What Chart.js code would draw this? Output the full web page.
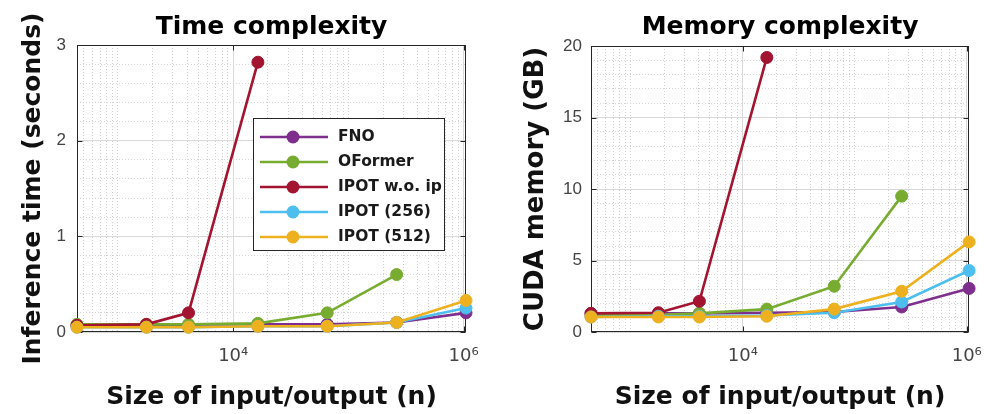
<!DOCTYPE html>
<html><head><meta charset="utf-8">
<script src="https://cdn.jsdelivr.net/npm/chart.js@4.4.1/dist/chart.umd.min.js"></script>
<style>
html,body{margin:0;padding:0;background:#fff;}
#wrap{display:flex;width:996px;height:414px;}
canvas{display:block;}
</style></head><body>
<div id="wrap"><canvas id="c1" width="498" height="414"></canvas><canvas id="c2" width="498" height="414"></canvas></div>
<script>
// ---- data ----
const sizes = [441, 1764, 4096, 16384, 65536, 262144, 1048576];
const seriesNames = ['FNO', 'OFormer', 'IPOT w.o. ip', 'IPOT (256)', 'IPOT (512)'];
const seriesColors = ['#7E2F8E', '#77AC30', '#A2142F', '#4DBEEE', '#EDB120'];

const timeFNO     = [0.07, 0.07, 0.07, 0.08, 0.08, 0.10, 0.20];
const timeOFormer = [0.08, 0.08, 0.08, 0.09, 0.20, 0.60];
const timeIPOTwo  = [0.07, 0.08, 0.20, 2.82];
const timeIPOT256 = [0.05, 0.05, 0.05, 0.06, 0.06, 0.10, 0.25];
const timeIPOT512 = [0.05, 0.05, 0.05, 0.06, 0.06, 0.10, 0.33];

const memFNO     = [1.30, 1.30, 1.30, 1.35, 1.40, 1.75, 3.05];
const memOFormer = [1.15, 1.20, 1.30, 1.60, 3.20, 9.50];
const memIPOTwo  = [1.30, 1.35, 2.15, 19.2];
const memIPOT256 = [1.05, 1.10, 1.10, 1.15, 1.35, 2.10, 4.30];
const memIPOT512 = [1.05, 1.05, 1.05, 1.10, 1.60, 2.85, 6.30];

const xTickValues = [1e4, 1e6];
const xTickLabels = ['10\u2074', '10\u2076'];
const timeYTicks = [0, 1, 2, 3];
const memYTicks = [0, 5, 10, 15, 20];

// ---- helpers ----
Chart.defaults.font.family = "'Liberation Sans', 'DejaVu Sans', sans-serif";
const xMinorValues = [];
for (let e = 2; e <= 5; e++) for (let s = 1; s <= 9; s++) {
  const v = s * Math.pow(10, e);
  if (v > sizes[0] && v < sizes[sizes.length - 1] && xTickValues.indexOf(v) < 0) xMinorValues.push(v);
}
function minorY(max, step) { const a = []; for (let v = 0; v <= max + 1e-9; v += step) a.push(+v.toFixed(4)); return a; }

const boxPlugin = {
  id: 'matBox',
  beforeDatasetsDraw(chart) {
    const {ctx, chartArea: a} = chart;
    ctx.save();
    ctx.strokeStyle = '#262626'; ctx.lineWidth = 1;
    const l = Math.round(a.left) + 0.5, r = Math.round(a.right) - 0.5, t = Math.round(a.top) + 0.5, b = Math.round(a.bottom) - 0.5;
    ctx.strokeRect(l, t, r - l, b - t);
    const ys = chart.scales.y;
    ctx.beginPath();
    ys.ticks.forEach(tk => { const p = Math.round(ys.getPixelForValue(tk.value)) + 0.5; ctx.moveTo(l, p); ctx.lineTo(l + 5, p); ctx.moveTo(r, p); ctx.lineTo(r - 5, p); });
    const xs = chart.scales.x;
    xs.ticks.forEach(tk => { const p = Math.round(xs.getPixelForValue(tk.value)) + 0.5; ctx.moveTo(p, b); ctx.lineTo(p, b - 5); ctx.moveTo(p, t); ctx.lineTo(p, t + 5); });
    ctx.stroke();
    ctx.restore();
  }
};

const legendPlugin = {
  id: 'boxLegend',
  afterDraw(chart, args, opts) {
    if (!opts.show) return;
    const {ctx, chartArea: a} = chart;
    const x0 = Math.round(a.left + opts.dx), y0 = Math.round(a.top + opts.dy), w = opts.w, h = opts.h;
    ctx.save();
    ctx.fillStyle = '#fff'; ctx.fillRect(x0, y0, w, h);
    ctx.strokeStyle = '#262626'; ctx.lineWidth = 1; ctx.strokeRect(x0 + 0.5, y0 + 0.5, w, h);
    chart.data.datasets.forEach((ds, i) => {
      const y = y0 + 19 + i * 25;
      ctx.strokeStyle = ds.borderColor; ctx.lineWidth = ds.borderWidth;
      ctx.beginPath(); ctx.moveTo(x0 + 7, y); ctx.lineTo(x0 + 75, y); ctx.stroke();
      ctx.fillStyle = ds.backgroundColor; ctx.beginPath(); ctx.arc(x0 + 40, y, ds.pointRadius + 0.5, 0, Math.PI * 2); ctx.fill();
      ctx.fillStyle = '#1a1a1a'; ctx.font = 'bold 15.5px "DejaVu Sans"'; ctx.textBaseline = 'middle'; ctx.textAlign = 'left';
      ctx.fillText(ds.label, x0 + 85, y);
    });
    ctx.restore();
  }
};

function buildChart(id, o) {
  const datasets = o.series.map((vals, i) => ({
    label: seriesNames[i],
    data: vals.map((v, j) => ({x: sizes[j], y: v})),
    borderColor: seriesColors[i], backgroundColor: seriesColors[i],
    borderWidth: 2.6, pointRadius: 6, pointBorderWidth: 1, pointHoverRadius: 6,
    tension: 0, fill: false, clip: false, order: 5 - i
  }));
  return new Chart(document.getElementById(id), {
    type: 'line',
    data: {datasets},
    plugins: [boxPlugin, legendPlugin],
    options: {
      responsive: false, animation: false, events: [],
      layout: {padding: {left: 0, right: o.padRight, top: 0, bottom: 0}},
      plugins: {
        legend: {display: false}, tooltip: {enabled: false},
        title: {display: true, text: o.title, fullSize: false, color: '#000',
          font: {family: '"DejaVu Sans"', size: 25, weight: 'bold', lineHeight: 1.2},
          padding: {top: o.titleTop, bottom: o.titleBottom}},
        boxLegend: {show: o.legend, dx: 176, dy: 73, w: 191, h: 132}
      },
      scales: {
        x: {type: 'logarithmic', position: 'bottom', min: sizes[0], max: sizes[sizes.length - 1],
          afterBuildTicks: s => { s.ticks = xTickValues.map(v => ({value: v})); },
          afterFit: s => { s.height = 414 - o.bottom; },
          grid: {color: '#d9d9d9', lineWidth: 1, drawTicks: false},
          border: {display: false},
          ticks: {autoSkip: false, maxRotation: 0, padding: 14, color: '#444', font: {family: "'DejaVu Sans', sans-serif", size: 18},
            callback: v => { const k = xTickValues.indexOf(v); return k < 0 ? '' : xTickLabels[k]; }},
          title: {display: true, text: 'Size of input/output (n)', color: '#111',
            font: {family: '"DejaVu Sans"', size: 25, weight: 'bold', lineHeight: 1.2}, padding: {top: 0, bottom: 2}}
        },
        xMinor: {type: 'logarithmic', position: 'bottom', min: sizes[0], max: sizes[sizes.length - 1],
          afterBuildTicks: s => { s.ticks = xMinorValues.map(v => ({value: v})); },
          afterFit: s => { s.height = 0; },
          grid: {color: '#d0d0d0', lineWidth: 1, drawTicks: false},
          border: {display: false, dash: [1, 2]},
          ticks: {display: false}
        },
        y: {type: 'linear', position: 'left', min: 0, max: o.yMax,
          afterBuildTicks: s => { s.ticks = o.yTicks.map(v => ({value: v})); },
          afterFit: s => { s.width = o.left; },
          grid: {color: '#d9d9d9', lineWidth: 1, drawTicks: false},
          border: {display: false},
          ticks: {padding: o.yPad, color: '#444', font: {size: 17}},
          title: {display: true, text: o.yTitle, color: '#111',
            font: {family: '"DejaVu Sans"', size: o.yTitleSize, weight: 'bold', lineHeight: 1.2},
            padding: {top: o.yTitlePad, bottom: 0}}
        },
        yMinor: {type: 'linear', position: 'left', min: 0, max: o.yMax,
          afterBuildTicks: s => { s.ticks = minorY(o.yMax, o.yMinorStep).map(v => ({value: v})); },
          afterFit: s => { s.width = 0; },
          grid: {color: '#d6d6d6', lineWidth: 1, drawTicks: false},
          border: {display: false, dash: [1, 2]},
          ticks: {display: false}
        }
      }
    }
  });
}

buildChart('c1', {
  series: [timeFNO, timeOFormer, timeIPOTwo, timeIPOT256, timeIPOT512],
  title: 'Time complexity', yTitle: 'Inference time (seconds)', yTitleSize: 25, yTitlePad: 18,
  yMax: 3, yTicks: timeYTicks, yMinorStep: 0.2, yPad: 11,
  left: 77, padRight: 32, bottom: 332, titleTop: 12, titleBottom: 3, legend: true
});
buildChart('c2', {
  series: [memFNO, memOFormer, memIPOTwo, memIPOT256, memIPOT512],
  title: 'Memory complexity', yTitle: 'CUDA memory (GB)', yTitleSize: 26, yTitlePad: 23,
  yMax: 20, yTicks: memYTicks, yMinorStep: 1, yPad: 9,
  left: 93, padRight: 15, bottom: 332, titleTop: 12, titleBottom: 4, legend: false
});
</script>
</body></html>
